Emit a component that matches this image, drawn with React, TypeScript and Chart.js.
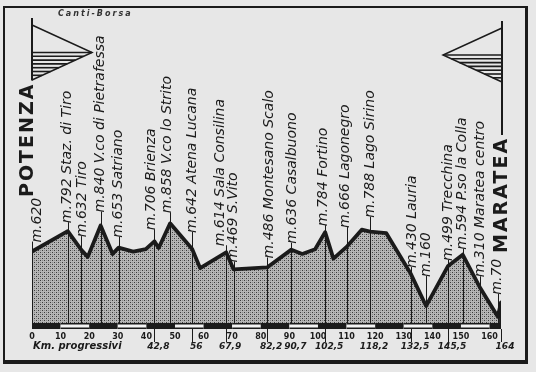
import React, { useEffect, useRef } from "react";
import { Chart, registerables } from "chart.js";

Chart.register(...registerables);

// ---- DATA ----
// profile vertices (km progressivi, altitude m)
const PROFILE_KM = [0, 12.5, 17.3, 19.5, 24, 28.2, 30.3, 35.4, 39.8, 42.8, 44.3, 48.3, 56, 58.8, 67.9, 70.5, 82.2, 90.7, 94.5, 99, 102.5, 105.4, 110.3, 115.3, 118.2, 123.9, 132.5, 137.8, 145.5, 150.6, 156.8, 162.9, 164, 164];
const PROFILE_ALT = [620, 792, 632, 575, 840, 600, 653, 620, 640, 706, 650, 858, 642, 480, 614, 469, 486, 636, 600, 640, 784, 560, 666, 805, 788, 775, 430, 160, 499, 594, 310, 70, 190, 0];

// labelled places
const PLACE_KM = [0, 12.5, 17.3, 24, 30.3, 42.8, 48.3, 56, 67.9, 70.5, 82.2, 90.7, 102.5, 110.3, 118.2, 132.5, 137.8, 145.5, 150.6, 156.8, 162.9];
const PLACE_ALT = [620, 792, 632, 840, 653, 706, 858, 642, 614, 469, 486, 636, 784, 666, 788, 430, 160, 499, 594, 310, 70];
const PLACE_NAMES = ["", "Staz. di Tiro", "Tiro", "V.co di Pietrafessa", "Satriano", "Brienza", "V.co lo Strito", "Atena Lucana", "Sala Consilina", "S.Vito", "Montesano Scalo", "Casalbuono", "Fortino", "Lagonegro", "Lago Sirino", "Lauria", "", "Trecchina", "P.so la Colla", "Maratea centro", ""];

const KM_TICKS = [0, 10, 20, 30, 40, 50, 60, 70, 80, 90, 100, 110, 120, 130, 140, 150, 160];
const PROGRESSIVE_KM = [42.8, 56, 67.9, 82.2, 90.7, 102.5, 118.2, 132.5, 145.5, 164];
const PROGRESSIVE_LABELS = ["42,8", "56", "67,9", "82,2", "90,7", "102,5", "118,2", "132,5", "145,5", "164"];
const PROGRESSIVE_MARKED = [42.8, 56, 67.9, 82.2, 102.5, 132.5, 145.5, 164];

const START_NAME = "POTENZA";
const FINISH_NAME = "MARATEA";
const AXIS_TITLE = "Km. progressivi";
const SIGNATURE = "Canti-Borsa";
const KM_MAX = 164;
const ALT_MAX = 2600;

// ---- LAYOUT (label offsets, px) ----
const LABEL_GAP = [9, 8, 13, 13, 10, 11, 10, 16, 6, 7, 9, 6, 6, 18, 14, 6, 29, 5, 5, 11, 22];
const LABEL_DX = [5, 0, 1, 0, 0, -3, -3, 0, -6, 0, 2, 1, -2, -2, 0, 1, 0, 0, 0, 0, 0];

const INK = "#1b1b1b";
const PAPER = "#e7e7e7";
const LABEL_FONT = 'oblique 14px "DejaVu Sans", sans-serif';

function makePattern(): CanvasPattern | string {
  const c = document.createElement("canvas");
  c.width = 4;
  c.height = 4;
  const g = c.getContext("2d");
  if (!g) return "#a5a5a5";
  g.fillStyle = "#b6b6b6";
  g.fillRect(0, 0, 4, 4);
  g.fillStyle = "#3a3a3a";
  g.fillRect(0, 0, 1, 1);
  g.fillRect(2, 2, 1, 1);
  g.fillStyle = "#8a8a8a";
  g.fillRect(2, 0, 1, 1);
  g.fillRect(0, 2, 1, 1);
  const p = g.createPattern(c, "repeat");
  return p || "#a5a5a5";
}

function labelText(i: number) {
  const n = PLACE_NAMES[i];
  return "m." + PLACE_ALT[i] + (n ? " " + n : "");
}

function labelBottom(chart: any, i: number) {
  const ys = chart.scales.y;
  return ys.getPixelForValue(PLACE_ALT[i]) - LABEL_GAP[i];
}

const decorPlugin = {
  id: "profileDecor",
  beforeDraw(chart: any) {
    const ctx = chart.ctx;
    ctx.save();
    ctx.fillStyle = PAPER;
    ctx.fillRect(0, 0, chart.width, chart.height);
    ctx.restore();
  },
  afterDatasetDraw(chart: any, args: any) {
    if (args.index !== 0) return;
    const ctx = chart.ctx;
    const xs = chart.scales.x;
    const ys = chart.scales.y;
    const base = ys.getPixelForValue(0);
    ctx.save();
    ctx.strokeStyle = INK;
    ctx.lineWidth = 1;
    for (let i = 0; i < PLACE_KM.length; i++) {
      const x = Math.round(xs.getPixelForValue(PLACE_KM[i])) + 0.5;
      const top = labelBottom(chart, i) - 1;
      ctx.beginPath();
      ctx.moveTo(x, base);
      ctx.lineTo(x, top);
      ctx.stroke();
    }
    ctx.restore();
  },
  afterDatasetsDraw(chart: any) {
    const ctx = chart.ctx;
    const xs = chart.scales.x;
    const ys = chart.scales.y;
    const base = ys.getPixelForValue(0);
    ctx.save();

    // distance bar
    const barTop = Math.round(base) - 2;
    const barH = 6;
    for (let k = 0; k < KM_MAX; k += 10) {
      const x0 = xs.getPixelForValue(k);
      const x1 = xs.getPixelForValue(Math.min(k + 10, KM_MAX));
      const idx = Math.round(k / 10);
      if (idx % 2 === 0) {
        ctx.fillStyle = INK;
        ctx.fillRect(x0, barTop, x1 - x0, barH);
      } else {
        ctx.fillStyle = "#f4f4f4";
        ctx.fillRect(x0, barTop, x1 - x0, barH);
        ctx.fillStyle = INK;
        ctx.fillRect(x0, barTop, x1 - x0, 1.5);
        ctx.fillRect(x0, barTop + barH - 1.5, x1 - x0, 1.5);
      }
    }

    // marked progressive distances: lines below the bar
    ctx.strokeStyle = INK;
    ctx.lineWidth = 1;
    PROGRESSIVE_MARKED.forEach((km) => {
      const x = Math.round(xs.getPixelForValue(km)) + 0.5;
      ctx.beginPath();
      ctx.moveTo(x, barTop + barH);
      ctx.lineTo(x, base + 17);
      ctx.stroke();
    });

    // km ticks
    ctx.fillStyle = INK;
    ctx.font = 'bold 8px "DejaVu Sans", sans-serif';
    ctx.textAlign = "center";
    ctx.textBaseline = "middle";
    KM_TICKS.forEach((km) => {
      ctx.fillText(String(km), xs.getPixelForValue(km), base + 11.5);
    });

    // progressive labels
    ctx.font = 'bold oblique 9px "DejaVu Sans", sans-serif';
    PROGRESSIVE_KM.forEach((km, i) => {
      ctx.fillText(PROGRESSIVE_LABELS[i], xs.getPixelForValue(km) + 4, base + 21.5);
    });
    ctx.textAlign = "left";
    ctx.font = 'bold oblique 10px "DejaVu Sans", sans-serif';
    ctx.fillText(AXIS_TITLE, xs.getPixelForValue(0) + 1, base + 21.5);

    // place labels (rotated)
    ctx.font = LABEL_FONT;
    ctx.textAlign = "left";
    ctx.textBaseline = "middle";
    for (let i = 0; i < PLACE_KM.length; i++) {
      const x = xs.getPixelForValue(PLACE_KM[i]) + LABEL_DX[i];
      const y = labelBottom(chart, i);
      ctx.save();
      ctx.translate(x, y);
      ctx.rotate(-Math.PI / 2);
      ctx.fillText(labelText(i), 0, 0);
      ctx.restore();
    }

    // start / finish names with pennants
    ctx.font = 'bold 19px "DejaVu Sans", sans-serif';
    (ctx as any).letterSpacing = "2px";
    const startX = xs.getPixelForValue(0);
    const finishX = xs.getPixelForValue(KM_MAX);
    const startBottom = 197;
    const finishBottom = 253;
    const wS = ctx.measureText(START_NAME).width;
    const wF = ctx.measureText(FINISH_NAME).width;
    ctx.save();
    ctx.translate(startX + 1, startBottom);
    ctx.rotate(-Math.PI / 2);
    ctx.textBaseline = "alphabetic";
    ctx.fillText(START_NAME, 0, 0);
    ctx.restore();
    ctx.save();
    ctx.translate(finishX + 1, finishBottom);
    ctx.rotate(-Math.PI / 2);
    ctx.textBaseline = "middle";
    ctx.fillText(FINISH_NAME, 0, 0);
    ctx.restore();
    (ctx as any).letterSpacing = "0px";

    const pennant = (px: number, poleTop: number, poleBottom: number, tTop: number, tBot: number, apexX: number) => {
      const apexY = (tTop + tBot) / 2;
      ctx.strokeStyle = INK;
      ctx.lineWidth = 2;
      ctx.beginPath();
      ctx.moveTo(px, poleTop);
      ctx.lineTo(px, poleBottom);
      ctx.stroke();
      ctx.lineWidth = 1.5;
      ctx.beginPath();
      ctx.moveTo(px, tTop);
      ctx.lineTo(apexX, apexY);
      ctx.lineTo(px, tBot);
      ctx.stroke();
      ctx.lineWidth = 1.6;
      for (let y = apexY; y <= tBot - 1; y += 3.8) {
        const f = (y - apexY) / (tBot - apexY);
        const xe = apexX + (px - apexX) * f;
        ctx.beginPath();
        ctx.moveTo(px, y);
        ctx.lineTo(xe, y);
        ctx.stroke();
      }
    };
    pennant(startX, 18, startBottom - wS - 2, 25, 80, startX + 60);
    pennant(finishX + 1, 21, finishBottom - wF - 2, 28, 82, finishX - 58);

    // signature
    ctx.font = 'bold oblique 8px "DejaVu Sans", sans-serif';
    (ctx as any).letterSpacing = "2px";
    ctx.textAlign = "left";
    ctx.textBaseline = "middle";
    ctx.fillStyle = "#333";
    ctx.fillText(SIGNATURE, 58, 14);
    (ctx as any).letterSpacing = "0px";

    // frame
    ctx.fillStyle = INK;
    ctx.fillRect(3, 6, 524, 2);
    ctx.fillRect(3, 6, 2, 358);
    ctx.fillRect(525, 6, 3, 358);
    ctx.fillRect(3, 360, 525, 4);
    ctx.restore();
  },
};

export default function App() {
  const ref = useRef<HTMLCanvasElement | null>(null);
  useEffect(() => {
    if (!ref.current) return;
    const pts = PROFILE_KM.map((x, i) => ({ x, y: PROFILE_ALT[i] }));
    const chart = new Chart(ref.current, {
      type: "line",
      data: {
        datasets: [
          {
            data: pts,
            borderWidth: 0,
            backgroundColor: makePattern() as any,
            fill: "origin",
            pointRadius: 0,
            order: 2,
          },
          {
            data: pts,
            borderColor: INK,
            borderWidth: 3.8,
            borderJoinStyle: "round",
            fill: false,
            pointRadius: 0,
            order: 1,
          },
        ],
      },
      options: {
        responsive: false,
        animation: false,
        maintainAspectRatio: false,
        layout: { padding: { left: 32, right: 35, top: 17, bottom: 47 } },
        plugins: { legend: { display: false }, tooltip: { enabled: false } },
        scales: {
          x: { type: "linear", min: 0, max: KM_MAX, display: false },
          y: { type: "linear", min: 0, max: ALT_MAX, display: false },
        },
      },
      plugins: [decorPlugin],
    });
    return () => chart.destroy();
  }, []);
  return (
    <div style={{ position: "absolute", left: 0, top: 0, width: 536, height: 372 }}>
      <canvas ref={ref} width={536} height={372} style={{ display: "block" }} />
    </div>
  );
}
